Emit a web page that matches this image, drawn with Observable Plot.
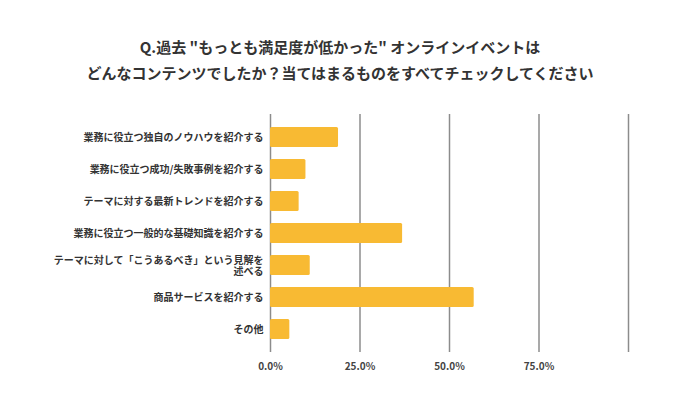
<!DOCTYPE html>
<html><head><meta charset="utf-8">
<script src="https://cdn.jsdelivr.net/npm/d3@7"></script>
<script src="https://cdn.jsdelivr.net/npm/@observablehq/plot@0.6"></script>
<style>
body{margin:0;background:#fff;font-family:"Noto Sans CJK JP",sans-serif;}
#title{height:100px;box-sizing:border-box;padding-top:34px;text-align:center;font-size:15px;font-weight:bold;line-height:26px;color:#333;}
svg{display:block;}
</style></head>
<body>
<div id="title">Q.過去 "もっとも満足度が低かった" オンラインイベントは<br>どんなコンテンツでしたか？当てはまるものをすべてチェックしてください</div>
<div id="chart"></div>
<script>
const categories = [
  "業務に役立つ独自のノウハウを紹介する",
  "業務に役立つ成功/失敗事例を紹介する",
  "テーマに対する最新トレンドを紹介する",
  "業務に役立つ一般的な基礎知識を紹介する",
  "テーマに対して「こうあるべき」という見解を\n述べる",
  "商品サービスを紹介する",
  "その他"
];
const values = [19.0, 9.9, 8.0, 36.9, 11.1, 56.9, 5.4];
const xTicks = [0, 25, 50, 75, 100];
const xTickLabels = ["0.0%", "25.0%", "50.0%", "75.0%", ""];

const data = categories.map((c, i) => ({category: c, value: values[i]}));

const chart = Plot.plot({
  width: 680,
  height: 305,
  marginTop: 14,
  marginBottom: 53,
  marginLeft: 270,
  marginRight: 52,
  style: {fontFamily: "'Noto Sans CJK JP', sans-serif", color: "#333", background: "#fff"},
  x: {domain: [0, 100], ticks: xTicks, label: null},
  y: {domain: categories, padding: 0.36, label: null},
  marks: [
    Plot.gridX(xTicks, {stroke: "#8c8c8c", strokeOpacity: 1, strokeWidth: 1.5}),
    Plot.barX(data, {x: "value", y: "category", fill: "#F8BA33", rx: 1.5}),
    Plot.axisX({ticks: xTicks, tickSize: 0, tickPadding: 10, tickFormat: (d) => xTickLabels[xTicks.indexOf(d)], fontSize: 10, fontWeight: "bold", fill: "#444", label: null}),
    Plot.axisY({tickSize: 0, tickPadding: 7, fontSize: 10, fontWeight: "bold", fill: "#333", lineHeight: 1.1, label: null})
  ]
});
document.getElementById("chart").appendChild(chart);
</script>
</body></html>
